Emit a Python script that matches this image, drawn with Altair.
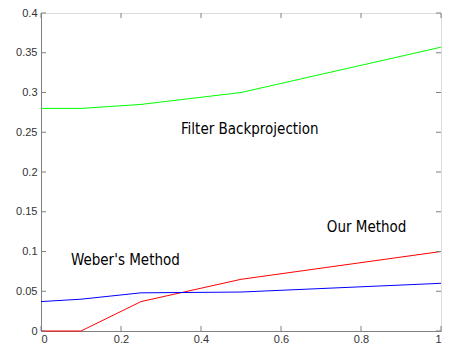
import altair as alt
import pandas as pd

x_vals = [0, 0.1, 0.25, 0.5, 1.0]
fbp = [0.280, 0.280, 0.285, 0.300, 0.357]
ours = [0.0, 0.0, 0.037, 0.065, 0.100]
weber = [0.037, 0.040, 0.048, 0.049, 0.060]

series_names = ["Filter Backprojection", "Our Method", "Weber's Method"]
series_colors = ["#00ff00", "#ff0000", "#0000ff"]

label_text = ["Filter Backprojection", "Our Method", "Weber's Method"]
label_x = [0.522, 0.814, 0.211]
label_y = [0.254, 0.131, 0.089]

x_ticks = [0, 0.2, 0.4, 0.6, 0.8, 1.0]
y_ticks = [0, 0.05, 0.1, 0.15, 0.2, 0.25, 0.3, 0.35, 0.4]

rows = []
for name, vals in zip(series_names, [fbp, ours, weber]):
    for xv, yv in zip(x_vals, vals):
        rows.append({"x": xv, "y": yv, "series": name})
df = pd.DataFrame(rows)
labels = pd.DataFrame({"text": label_text, "x": label_x, "y": label_y})
xt = pd.DataFrame({"t": x_ticks})
yt = pd.DataFrame({"t": y_ticks})

W, H = 400, 318
xs = alt.Scale(domain=[0, 1], nice=False)
ys = alt.Scale(domain=[0, 0.4], nice=False)

xax = alt.Axis(values=x_ticks, title=None, tickSize=0, labelPadding=2, labelFontSize=11,
               labelColor="#333", domainColor="#808080", grid=False, labelOverlap=False,
               labelFont="Liberation Sans", format="~g")
yax = alt.Axis(values=y_ticks, title=None, tickSize=0, labelPadding=4, labelFontSize=11,
               labelColor="#333", domainColor="#808080", grid=False, labelOverlap=False,
               labelFont="Liberation Sans", format="~g")

lines = alt.Chart(df).mark_line(strokeWidth=1).encode(
    x=alt.X("x:Q", scale=xs, axis=xax),
    y=alt.Y("y:Q", scale=ys, axis=yax),
    color=alt.Color("series:N", scale=alt.Scale(domain=series_names, range=series_colors), legend=None),
    detail="series:N",
)

text = alt.Chart(labels).mark_text(font="DejaVu Sans Condensed",
                                   fontSize=15, color="black").encode(
    x=alt.X("x:Q", scale=xs, axis=xax), y=alt.Y("y:Q", scale=ys, axis=yax), text="text:N"
)

tick_color = "#808080"
xb = alt.Chart(xt).mark_rule(color=tick_color).encode(
    x=alt.X("t:Q", scale=xs, axis=xax), y=alt.value(H), y2=alt.value(H - 5))
xtp = alt.Chart(xt).mark_rule(color=tick_color).encode(
    x=alt.X("t:Q", scale=xs, axis=xax), y=alt.value(0), y2=alt.value(5))
yl = alt.Chart(yt).mark_rule(color=tick_color).encode(
    y=alt.Y("t:Q", scale=ys, axis=yax), x=alt.value(0), x2=alt.value(5))
yr = alt.Chart(yt).mark_rule(color=tick_color).encode(
    y=alt.Y("t:Q", scale=ys, axis=yax), x=alt.value(W), x2=alt.value(W - 5))

chart = alt.layer(lines, xb, xtp, yl, yr, text).properties(
    width=W, height=H,
    autosize=alt.AutoSizeParams(type="none"),
    padding={"left": 33, "top": 5, "right": 3, "bottom": 13},
).configure_view(stroke="#333333", strokeWidth=1).configure(background="white")

chart.save("out.html", embed_options={"renderer": "svg", "actions": False})
